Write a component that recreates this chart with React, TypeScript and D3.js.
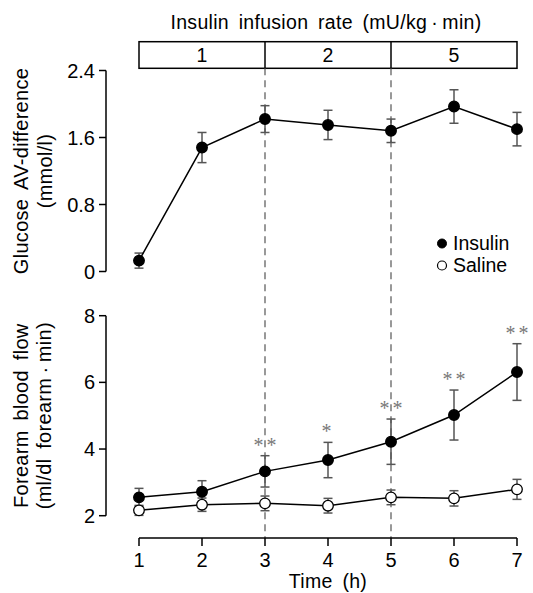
import React from "react";
import * as d3 from "d3";

const times = [1, 2, 3, 4, 5, 6, 7];
const glucoseInsulin = [0.13, 1.48, 1.82, 1.75, 1.68, 1.97, 1.7];
const glucoseInsulinErr = [0.09, 0.18, 0.16, 0.175, 0.14, 0.2, 0.2];
const flowInsulin = [2.55, 2.72, 3.33, 3.67, 4.22, 5.02, 6.31];
const flowInsulinErr = [0.27, 0.33, 0.47, 0.53, 0.68, 0.75, 0.85];
const flowSaline = [2.16, 2.33, 2.37, 2.3, 2.55, 2.52, 2.79];
const flowSalineErr = [0.15, 0.2, 0.22, 0.22, 0.22, 0.23, 0.3];
const significance = ["", "", "**", "*", "**", "**", "**"];
const rateSegments = [
  { label: "1", from: 1, to: 3 },
  { label: "2", from: 3, to: 5 },
  { label: "5", from: 5, to: 7 },
];
const topTicks = [0, 0.8, 1.6, 2.4];
const bottomTicks = [2, 4, 6, 8];

const W = 533;
const H = 593;
const FONT = "Liberation Sans, Arial, sans-serif";
const ERR = "#555";
const FS = 19.5;

export default function App() {
  const x = d3.scaleLinear().domain([1, 7]).range([139, 517]);
  const yTop = d3.scaleLinear().domain([0, 2.4]).range([271.5, 70.5]);
  const yBot = d3.scaleLinear().domain([2, 8]).range([515.7, 315.7]);
  const axisX = 106;
  const xAxisY = 538;
  const boxTop = 41.7;
  const boxBot = 68.3;

  const line = (y: d3.ScaleLinear<number, number>) =>
    d3
      .line<number>()
      .x((_, i) => x(times[i]))
      .y((d) => y(d));

  const errBars = (
    vals: number[],
    errs: number[],
    y: d3.ScaleLinear<number, number>,
    key: string
  ) =>
    vals.map((v, i) => {
      const cx = x(times[i]);
      const y1 = y(v + errs[i]);
      const y2 = y(v - errs[i]);
      return (
        <g key={key + i} stroke={ERR} strokeWidth={1.5}>
          <line x1={cx} x2={cx} y1={y1} y2={y2} />
          <line x1={cx - 4.5} x2={cx + 4.5} y1={y1} y2={y1} />
          <line x1={cx - 4.5} x2={cx + 4.5} y1={y2} y2={y2} />
        </g>
      );
    });

  const points = (
    vals: number[],
    y: d3.ScaleLinear<number, number>,
    filled: boolean,
    key: string
  ) =>
    vals.map((v, i) => (
      <circle
        key={key + i}
        cx={x(times[i])}
        cy={y(v)}
        r={5.3}
        fill={filled ? "#000" : "#fff"}
        stroke="#000"
        strokeWidth={1.3}
      />
    ));

  const labelStyle = { wordSpacing: "4px", letterSpacing: "0.3px" };

  return (
    <svg width={W} height={H} style={{ position: "absolute", left: 0, top: 0 }} fontFamily={FONT}>
      <rect width={W} height={H} fill="#fff" />
      {/* Title */}
      <text x={326} y={29} textAnchor="middle" fontSize={FS} style={labelStyle}>
        {"Insulin infusion rate (mU/kg\u2009·\u2009min)"}
      </text>
      {/* header box */}
      <rect
        x={x(1)}
        y={boxTop}
        width={x(7) - x(1)}
        height={boxBot - boxTop}
        fill="none"
        stroke="#000"
        strokeWidth={1.5}
      />
      {rateSegments.map((s, i) => (
        <g key={"seg" + i}>
          {i > 0 && (
            <line x1={x(s.from)} x2={x(s.from)} y1={boxTop} y2={boxBot} stroke="#000" strokeWidth={1.5} />
          )}
          <text
            x={(x(s.from) + x(s.to)) / 2}
            y={(boxTop + boxBot) / 2 + 6.5}
            textAnchor="middle"
            fontSize={FS}
          >
            {s.label}
          </text>
        </g>
      ))}
      {/* dashed lines */}
      {[3, 5].map((t) => (
        <line
          key={"d" + t}
          x1={x(t)}
          x2={x(t)}
          y1={boxBot}
          y2={xAxisY}
          stroke="#555"
          strokeWidth={1.2}
          strokeDasharray="7,5"
        />
      ))}

      {/* Top y axis */}
      <line x1={axisX} x2={axisX} y1={yTop(2.4)} y2={yTop(0)} stroke="#000" strokeWidth={1.5} />
      {topTicks.map((t) => (
        <g key={"tt" + t}>
          <line x1={axisX - 7} x2={axisX} y1={yTop(t)} y2={yTop(t)} stroke="#000" strokeWidth={1.5} />
          <text x={axisX - 11} y={yTop(t) + 7} textAnchor="end" fontSize={20}>
            {t === 0 ? "0" : t.toFixed(1)}
          </text>
        </g>
      ))}
      <text transform={`translate(28,${(yTop(0) + yTop(2.4)) / 2}) rotate(-90)`} textAnchor="middle" fontSize={20} style={labelStyle}>
        Glucose AV-difference
      </text>
      <text transform={`translate(52,${(yTop(0) + yTop(2.4)) / 2}) rotate(-90)`} textAnchor="middle" fontSize={20} style={labelStyle}>
        (mmol/l)
      </text>

      {/* top data */}
      {errBars(glucoseInsulin, glucoseInsulinErr, yTop, "ge")}
      <path d={line(yTop)(glucoseInsulin) ?? ""} fill="none" stroke="#000" strokeWidth={1.5} />
      {points(glucoseInsulin, yTop, true, "gp")}

      {/* legend */}
      <circle cx={442} cy={243.5} r={4.5} fill="#000" stroke="#000" />
      <text x={453} y={250} fontSize={FS}>Insulin</text>
      <circle cx={442} cy={265.5} r={4.5} fill="#fff" stroke="#000" strokeWidth={1.2} />
      <text x={453} y={272} fontSize={FS}>Saline</text>

      {/* bottom y axis */}
      <line x1={axisX} x2={axisX} y1={yBot(8)} y2={yBot(2)} stroke="#000" strokeWidth={1.5} />
      {bottomTicks.map((t) => (
        <g key={"bt" + t}>
          <line x1={axisX - 7} x2={axisX} y1={yBot(t)} y2={yBot(t)} stroke="#000" strokeWidth={1.5} />
          <text x={axisX - 11} y={yBot(t) + 7} textAnchor="end" fontSize={20}>
            {t}
          </text>
        </g>
      ))}
      <text transform={`translate(28,${(yBot(2) + yBot(8)) / 2}) rotate(-90)`} textAnchor="middle" fontSize={20} style={labelStyle}>
        Forearm blood flow
      </text>
      <text transform={`translate(51,${(yBot(2) + yBot(8)) / 2}) rotate(-90)`} textAnchor="middle" fontSize={20} style={labelStyle}>
        {"(ml/dl forearm\u2009·\u2009min)"}
      </text>

      {/* bottom data */}
      {errBars(flowSaline, flowSalineErr, yBot, "se")}
      {errBars(flowInsulin, flowInsulinErr, yBot, "ie")}
      <path d={line(yBot)(flowSaline) ?? ""} fill="none" stroke="#000" strokeWidth={1.5} />
      <path d={line(yBot)(flowInsulin) ?? ""} fill="none" stroke="#000" strokeWidth={1.5} />
      {points(flowSaline, yBot, false, "sp")}
      {points(flowInsulin, yBot, true, "ip")}
      {significance.map((s, i) =>
        s ? (
          <text
            key={"sig" + i}
            x={x(times[i]) + (s.length > 1 ? 1.5 : 0)}
            y={yBot(flowInsulin[i] + flowInsulinErr[i]) - 4}
            textAnchor="middle"
            fontSize={20}
            fill="#777"
            fontFamily="Liberation Serif, serif"
            style={{ letterSpacing: "3px" }}
          >
            {s}
          </text>
        ) : null
      )}

      {/* x axis */}
      <line x1={x(1)} x2={x(7)} y1={xAxisY} y2={xAxisY} stroke="#000" strokeWidth={1.5} />
      {times.map((t) => (
        <g key={"xt" + t}>
          <line x1={x(t)} x2={x(t)} y1={xAxisY} y2={xAxisY + 8} stroke="#000" strokeWidth={1.5} />
          <text x={x(t)} y={567} textAnchor="middle" fontSize={20}>
            {t}
          </text>
        </g>
      ))}
      <text x={x(4)} y={588} textAnchor="middle" fontSize={FS} style={labelStyle}>
        Time (h)
      </text>
    </svg>
  );
}
